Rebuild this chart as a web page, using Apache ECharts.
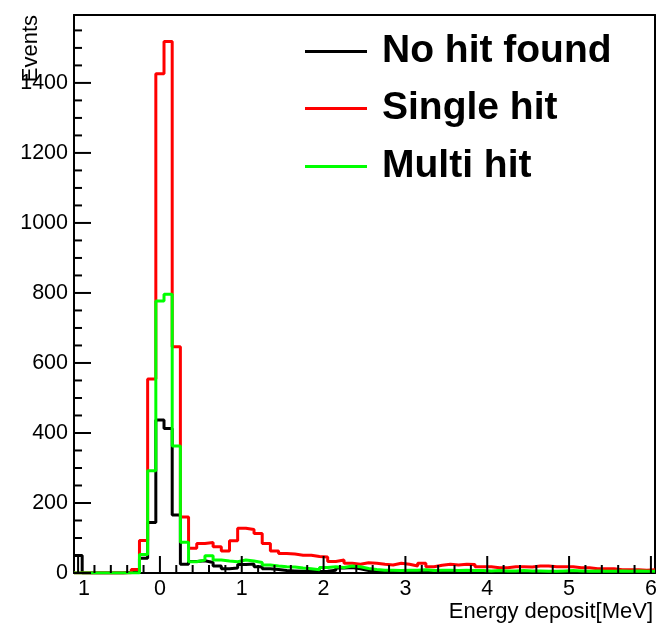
<!DOCTYPE html>
<html>
<head>
<meta charset="utf-8">
<script src="https://cdn.jsdelivr.net/npm/echarts@6/dist/echarts.min.js"></script>
<style>
  html, body { margin: 0; padding: 0; background: #fff; }
  #chart { width: 659px; height: 625px; }
</style>
</head>
<body>
<div id="chart"></div>
<script>
// Histogram binning: 71 bins of 0.1 MeV, first bin centred on -1.0 MeV
const binLow = -1.05;
const binWidth = 0.1;

// Bin contents (events per bin), bins from -1.0 to 6.0 MeV
const noHitFound = [
  50, 0, 0, 0, 0, 0, 2, 5, 42, 144,
  437, 413, 166, 25, 33, 35, 30, 20, 12, 14,
  24, 26, 18, 12, 10, 7, 6, 5, 4, 4,
  5, 8, 14, 16, 12, 7, 4, 3, 3, 3,
  2, 3, 2, 3, 2, 2, 3, 2, 2, 3,
  2, 2, 2, 3, 2, 2, 2, 3, 2, 2,
  2, 3, 2, 2, 2, 2, 3, 2, 2, 2,
  2
];
const singleHit = [
  0, 0, 0, 0, 0, 0, 1, 10, 93, 554,
  1426, 1518, 646, 160, 71, 84, 87, 75, 63, 92,
  128, 124, 113, 84, 63, 56, 54, 51, 51, 47,
  46, 33, 37, 28, 25, 29, 28, 25, 23, 28,
  25, 20, 28, 18, 22, 25, 23, 25, 24, 18,
  18, 15, 15, 18, 18, 17, 20, 20, 18, 18,
  18, 15, 15, 12, 12, 12, 9, 9, 9, 8,
  9
];
const multiHit = [
  0, 0, 0, 0, 0, 0, 0, 0, 53, 292,
  777, 796, 363, 88, 32, 37, 49, 37, 34, 32,
  37, 34, 30, 23, 20, 18, 17, 14, 12, 9,
  16, 18, 16, 20, 18, 13, 10, 8, 8, 7,
  8, 8, 9, 7, 8, 8, 7, 8, 7, 7,
  6, 7, 6, 6, 7, 6, 6, 5, 5, 6,
  7, 6, 5, 6, 5, 5, 6, 5, 6, 5,
  5
];

const seriesNames = ['No hit found', 'Single hit', 'Multi hit'];

// Axis ticks
const xMajorTicks = [-1, 0, 1, 2, 3, 4, 5, 6];
const yMajorTicks = [0, 200, 400, 600, 800, 1000, 1200, 1400];
const xMin = -1.05, xMax = 6.05;
const yMin = 0, yMax = 1594;

// Minor ticks: 5 divisions per major step on x, 4 on y
const xMinorTicks = [];
for (let k = 0; k < xMajorTicks.length - 1; k++) {
  for (let j = 1; j < 5; j++) xMinorTicks.push(+(xMajorTicks[k] + j * 0.2).toFixed(2));
}
const yMinorTicks = [];
for (let v = 50; v < yMax; v += 50) if (v % 200 !== 0) yMinorTicks.push(v);

// Step outline: each point sits on a bin's low edge, plus a closing point at the top edge
function histPoints(values) {
  const pts = values.map((v, i) => [+(binLow + i * binWidth).toFixed(3), v]);
  pts.push([+(binLow + values.length * binWidth).toFixed(3), values[values.length - 1]]);
  return pts;
}

const FONT = '"Liberation Sans", Arial, Helvetica, sans-serif';
const colors = ['#000000', '#ff0000', '#00ff00'];
const MAJOR_LEN = 17, MINOR_LEN = 8;
const frameLine = { color: '#000', width: 2 };

function legendEntry(name, top) {
  return {
    data: [name],
    left: 305,
    top: top,
    padding: 0,
    icon: 'rect',
    itemWidth: 62,
    itemHeight: 3,
    selectedMode: false,
    textStyle: {
      fontFamily: FONT, fontSize: 39, fontWeight: 'bold', color: '#000',
      padding: [0, 0, 0, 10]
    }
  };
}

// Inward tick marks along the bottom and left frame edges, placed through the axis scales
const xTickData = xMajorTicks.map(v => [v, 1]).concat(xMinorTicks.map(v => [v, 0]));
const yTickData = yMajorTicks.map(v => [1, v]).concat(yMinorTicks.map(v => [0, v]));

const tickSeries = [
  {
    type: 'custom', name: 'x ticks', silent: true, z: 10, clip: false,
    data: xTickData,
    renderItem: (params, api) => {
      const p = api.coord([api.value(0), yMin]);
      const len = api.value(1) ? MAJOR_LEN : MINOR_LEN;
      return { type: 'line', shape: { x1: p[0], y1: p[1], x2: p[0], y2: p[1] - len },
               style: { stroke: '#000', lineWidth: 2 } };
    }
  },
  {
    type: 'custom', name: 'y ticks', silent: true, z: 10, clip: false,
    data: yTickData,
    renderItem: (params, api) => {
      const p = api.coord([xMin, api.value(1)]);
      const len = api.value(0) ? MAJOR_LEN : MINOR_LEN;
      return { type: 'line', shape: { x1: p[0], y1: p[1], x2: p[0] + len, y2: p[1] },
               style: { stroke: '#000', lineWidth: 2 } };
    }
  }
];

const chart = echarts.init(document.getElementById('chart'));
chart.setOption({
  animation: false,
  backgroundColor: '#ffffff',
  grid: {
    left: 74, right: 4, top: 15, bottom: 52,
    containLabel: false,
    outerBoundsMode: 'none',
    show: false
  },
  legend: [
    legendEntry(seriesNames[0], 32),
    legendEntry(seriesNames[1], 89),
    legendEntry(seriesNames[2], 147)
  ],
  xAxis: [
    {
      type: 'value', min: xMin, max: xMax, position: 'bottom',
      axisLine: { show: true, onZero: false, lineStyle: frameLine },
      axisTick: { show: false },
      minorTick: { show: false },
      splitLine: { show: false },
      axisLabel: {
        customValues: xMajorTicks,
        margin: 5,
        fontFamily: FONT, fontSize: 21.5, color: '#000',
        formatter: v => (v < 0 ? '{neg|' + Math.abs(v) + '}' : String(v)),
        rich: { neg: { fontFamily: FONT, fontSize: 21.5, color: '#000', padding: [0, 0, 0, 12] } }
      }
    },
    {
      // top edge of the frame
      type: 'value', min: xMin, max: xMax, position: 'top',
      axisLine: { show: true, onZero: false, lineStyle: frameLine },
      axisTick: { show: false }, axisLabel: { show: false }, splitLine: { show: false }
    }
  ],
  yAxis: [
    {
      type: 'value', min: yMin, max: yMax, position: 'left',
      axisLine: { show: true, onZero: false, lineStyle: frameLine },
      axisTick: { show: false },
      minorTick: { show: false },
      splitLine: { show: false },
      axisLabel: {
        customValues: yMajorTicks,
        margin: 6,
        fontFamily: FONT, fontSize: 21.5, color: '#000',
        formatter: v => String(v)
      }
    },
    {
      // right edge of the frame
      type: 'value', min: yMin, max: yMax, position: 'right',
      axisLine: { show: true, onZero: false, lineStyle: frameLine },
      axisTick: { show: false }, axisLabel: { show: false }, splitLine: { show: false }
    }
  ],
  graphic: [
    {
      type: 'text',
      x: 42, y: 15,
      rotation: Math.PI / 2,
      style: {
        text: 'Events',
        fontFamily: FONT, fontSize: 22, fill: '#000',
        align: 'right', verticalAlign: 'bottom'
      }
    },
    {
      type: 'text',
      x: 653, y: 612,
      style: {
        text: 'Energy deposit[MeV]',
        fontFamily: FONT, fontSize: 22, fill: '#000',
        align: 'right', verticalAlign: 'middle'
      }
    }
  ],
  series: [noHitFound, singleHit, multiHit].map((vals, i) => ({
    name: seriesNames[i],
    type: 'line',
    step: 'end',
    xAxisIndex: 0,
    yAxisIndex: 0,
    data: histPoints(vals),
    symbol: 'none',
    color: colors[i],
    lineStyle: { color: colors[i], width: 3 },
    z: 2 + i
  })).concat(tickSeries.map(s => Object.assign({ xAxisIndex: 0, yAxisIndex: 0 }, s)))
});
</script>
</body>
</html>
